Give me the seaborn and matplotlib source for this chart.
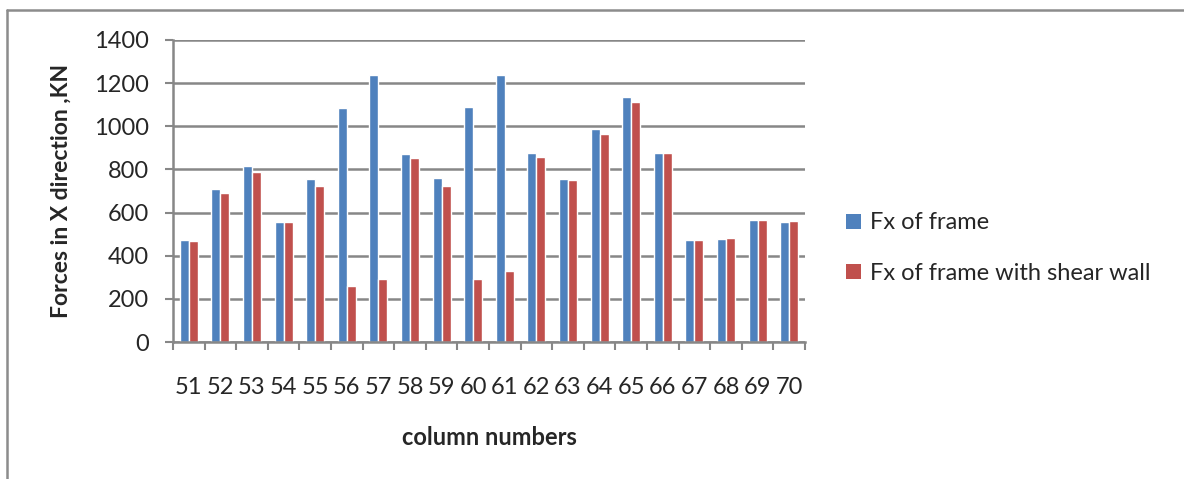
import numpy as np
import pandas as pd
import matplotlib as mpl
import matplotlib.pyplot as plt
import seaborn as sns
from matplotlib.lines import Line2D
from matplotlib.patches import Patch

# data
columns = [str(c) for c in range(51, 71)]
fx_frame = [474, 707, 815, 554, 756, 1087, 1236, 872, 758, 1090,
            1240, 874, 756, 986, 1136, 874, 474, 477, 566, 557]
fx_shear = [469, 690, 790, 554, 724, 261, 290, 854, 725, 293,
            329, 857, 752, 966, 1113, 874, 474, 480, 566, 560]
series = ['Fx of frame', 'Fx of frame with shear wall']
colors = ['#4F81BD', '#C0504D']

df = pd.DataFrame({
    'column': columns * 2,
    'force': fx_frame + fx_shear,
    'series': [series[0]] * len(columns) + [series[1]] * len(columns),
})

sns.set_style('white')
plt.rcParams['font.family'] = ['Lato', 'DejaVu Sans']

fig = plt.figure(figsize=(11.84, 4.79), dpi=100)
ax = fig.add_axes([0.1461, 0.286, 0.5338, 0.6305])

sns.barplot(data=df, x='column', y='force', hue='series', palette=colors,
            width=0.57, ax=ax, legend=False, saturation=1)

grid_c = '#878787'
ax.set_ylim(0, 1400)
ax.set_xlim(-0.5, len(columns) - 0.5)
ax.set_yticks(np.arange(0, 1401, 200))
ax.yaxis.grid(True, color=grid_c, linewidth=1.8)
ax.set_axisbelow(True)

for s in ['top', 'right']:
    ax.spines[s].set_visible(False)
for s in ['left', 'bottom']:
    ax.spines[s].set_color(grid_c)
    ax.spines[s].set_linewidth(1.8)

# tick marks between categories
ax.set_xticks(np.arange(-0.5, len(columns)), minor=True)
ax.tick_params(axis='x', which='minor', length=6, width=1.5, color=grid_c, direction='out', bottom=True)
ax.tick_params(axis='x', which='major', length=0, pad=25, labelsize=17)
ax.tick_params(axis='y', length=6, width=1.5, color=grid_c, direction='out', pad=11,
               labelsize=17, left=True)

ax.set_xlabel('column numbers', fontsize=17, fontweight='bold', labelpad=20)
ax.set_ylabel('Forces in X direction ,KN', fontsize=16.5, fontweight='bold', labelpad=16)

handles = [Patch(facecolor=c, edgecolor='none') for c in colors]
fig.legend(handles, series, loc='center left', bbox_to_anchor=(0.697, 0.482),
           frameon=False, fontsize=17, handlelength=0.6, handleheight=0.6,
           handletextpad=0.4, labelspacing=1.25)

# outer chart border (left and top)
fig.add_artist(Line2D([7 / 1184, 7 / 1184], [0, 1 - 10 / 479], transform=fig.transFigure,
                      color='#8c8c8c', linewidth=1.8))
fig.add_artist(Line2D([7 / 1184, 1], [1 - 10 / 479, 1 - 10 / 479], transform=fig.transFigure,
                      color='#8c8c8c', linewidth=1.8))

plt.savefig('out.png', dpi=100)
